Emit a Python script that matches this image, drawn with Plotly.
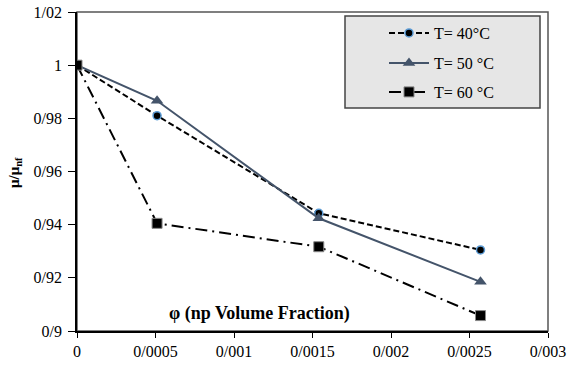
import plotly.graph_objects as go

phi = [0, 0.00051, 0.00154, 0.00257]
t40 = [1.0, 0.981, 0.9443, 0.9305]
t50 = [1.0, 0.9866, 0.9424, 0.9185]
t60 = [1.0, 0.9405, 0.9317, 0.9058]

x_ticks = [0, 0.0005, 0.001, 0.0015, 0.002, 0.0025, 0.003]
x_ticktext = ["0", "0/0005", "0/001", "0/0015", "0/002", "0/0025", "0/003"]
y_ticks = [0.9, 0.92, 0.94, 0.96, 0.98, 1.0, 1.02]
y_ticktext = ["0/9", "0/92", "0/94", "0/96", "0/98", "1", "1/02"]

FONT = "Liberation Serif, Times New Roman, DejaVu Serif, serif"

# plot area in page px: x 77-548, y 12-331 (body margin removed via post_script)
W, H = 569, 367
L, R, T, B = 77, 21, 12, 36
PW, PH = 471, 319


def px(x):
    return (x - 77) / PW


def py(y):
    return 1 - (y - 12) / PH


fig = go.Figure()
fig.add_trace(go.Scatter(
    x=phi, y=t40, name="T= 40°C", mode="lines+markers", legend="legend",
    line=dict(color="black", width=2, dash="6px,3px"),
    marker=dict(symbol="circle", size=8, color="black",
                line=dict(color="#5b9bd5", width=1.5)),
))
fig.add_trace(go.Scatter(
    x=phi, y=t50, name="T= 50 °C", mode="lines+markers", legend="legend2",
    line=dict(color="#44546A", width=2),
    marker=dict(symbol="triangle-up", size=11, color="#44546A"),
))
fig.add_trace(go.Scatter(
    x=phi, y=t60, name="T= 60 °C", mode="lines+markers", legend="legend3",
    line=dict(color="black", width=2, dash="12px,5px,2px,5px"),
    marker=dict(symbol="square", size=10, color="black",
                line=dict(color="#888888", width=1)),
))

fig.add_shape(type="rect", xref="paper", yref="paper", x0=0, y0=0, x1=1, y1=1,
              line=dict(color="#555555", width=1.5), layer="below")
fig.add_shape(type="rect", xref="paper", yref="paper",
              x0=px(345), x1=px(540), y0=py(108), y1=py(16),
              fillcolor="#e6e6e6", line=dict(color="#444444", width=1.5),
              layer="above")

fig.add_annotation(text="<b>φ (np Volume Fraction)</b>", xref="paper", yref="paper",
                   x=px(259), y=py(313), xanchor="center", yanchor="middle",
                   showarrow=False, font=dict(family=FONT, size=18, color="black"))
fig.add_annotation(text="<b>μ/μ<sub>nf</sub></b>", xref="paper", yref="paper",
                   x=px(15), y=py(173), xanchor="center", yanchor="middle",
                   showarrow=False, textangle=-90,
                   font=dict(family=FONT, size=15, color="black"))


def leg(ycenter):
    return dict(x=px(384), y=py(ycenter), xanchor="left", yanchor="middle",
                bgcolor="rgba(0,0,0,0)", borderwidth=0,
                font=dict(family=FONT, size=16, color="black"), itemwidth=40)


fig.update_layout(
    width=W, height=H,
    margin=dict(l=L, r=R, t=T, b=B, autoexpand=False),
    paper_bgcolor="white", plot_bgcolor="white",
    font=dict(family=FONT, size=16, color="black"),
    showlegend=True,
    legend=leg(33), legend2=leg(63), legend3=leg(92),
    xaxis=dict(range=[0, 0.003], tickvals=x_ticks, ticktext=x_ticktext,
               showgrid=False, zeroline=False, showline=True, linecolor="black",
               linewidth=1.5, ticks="outside", ticklen=5, tickcolor="black",
               automargin=False, ticklabeloverflow="allow",
               tickfont=dict(family=FONT, size=16)),
    yaxis=dict(range=[0.9, 1.02], tickvals=y_ticks, ticktext=y_ticktext,
               showgrid=False, zeroline=False, showline=True, linecolor="black",
               linewidth=1.5, ticks="outside", ticklen=7, tickcolor="black",
               automargin=False, ticklabeloverflow="allow", ticklabelstandoff=3,
               tickfont=dict(family=FONT, size=16)),
)

fig.write_html("out.html", config={"displayModeBar": False},
               post_script="document.body.style.margin='0';document.body.style.overflow='hidden';")
